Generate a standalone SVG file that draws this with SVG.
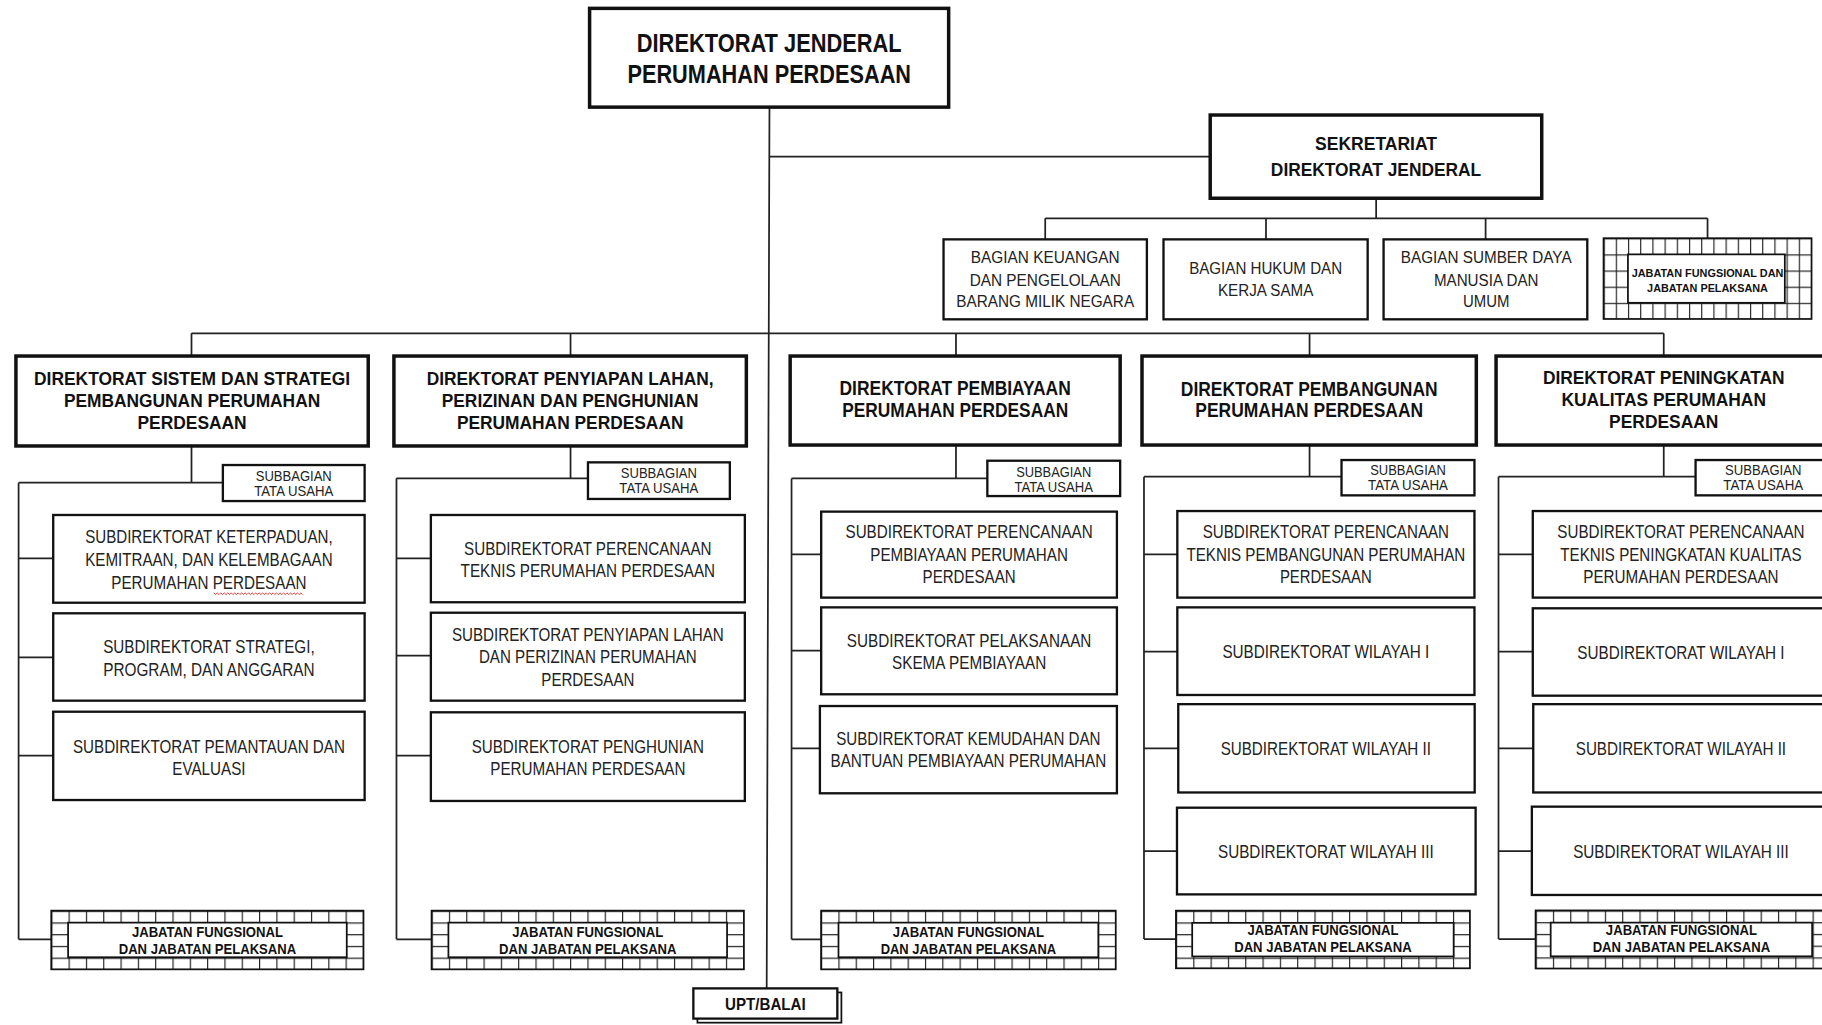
<svg xmlns="http://www.w3.org/2000/svg" width="1822" height="1025" viewBox="0 0 1822 1025">
<style>
.b3{fill:#fff;stroke:#111;stroke-width:3}
.b2{fill:#fff;stroke:#111;stroke-width:2}
.bi{fill:#fff;stroke:#111;stroke-width:1.5}
.ln{fill:none;stroke:#222;stroke-width:1.5}
text{font-family:"Liberation Sans",Arial,sans-serif;text-anchor:middle;fill:#111}
.tb{font-weight:bold}
.t22{font-size:22px}
.t17{font-size:17px}
.t16{font-size:16px}
.s{font-size:15.5px;fill:#222}
.g{font-size:14px;fill:#222}
.sb{font-size:12.5px;fill:#222}
.jb{font-size:13px;font-weight:bold}
.jt{font-size:9px;font-weight:bold}
</style>
<defs>
<pattern id="gridB" width="14.9" height="10.1" patternUnits="userSpaceOnUse"><rect width="14.9" height="10.1" fill="#fff"/><path d="M0 0H14.9M0 0V10.1" stroke="#222" stroke-width="2"/></pattern>
<pattern id="gridT" width="10.5" height="13.9" patternUnits="userSpaceOnUse"><rect width="10.5" height="13.9" fill="#fff"/><path d="M0 0H10.5M0 0V13.9" stroke="#222" stroke-width="2"/></pattern>
</defs>
<rect width="1822" height="1025" fill="#fff"/>
<g transform="scale(1.16199)">
<g id="connectors" class="ln">
<path d="M662.2 92.3L659.8 850.6M662.2 134.8H1041.5M1184.3 170.6V187.9M899.5 187.9H1469.5M899.5 187.9V206M1089.5 187.9V206M1278.5 187.9V206M1469.5 187.9V205"/>
<path d="M164.8 286.8H1431.8M164.8 286.8V306.4M491 286.8V306.4M822.7 286.8V306.4M1127 286.8V306.4M1431.8 286.8V306.4"/>
<path d="M164.8 383.8V415.4M16 415.4H191.8M16 415.4V808.4M16 480.5H45.8M16 565.7H45.8M16 650.3H45.8M16 808.4H44.1"/>
<path d="M491 383.8V411.6M341.2 411.6H506M341.2 411.6V808.4M341.2 480.5H370.8M341.2 564.3H370.8M341.2 650.3H370.8M341.2 808.4H371.4"/>
<path d="M822.7 383V411.7M681.2 411.7H849.7M681.2 411.7V808.4M681.2 477H706.7M681.2 560H706.7M681.2 644H705.6M681.2 808.4H706.6"/>
<path d="M1127 383V410.2M984.5 410.2H1154.5M984.5 410.2V808.1M984.5 477H1013.2M984.5 560.8H1013.2M984.5 644H1014M984.5 732.4H1012.9M984.5 808.1H1012"/>
<path d="M1431.8 383V410.2M1289.6 410.2H1459.2M1289.6 410.2V808.1M1289.6 477H1319.1M1289.6 560.8H1319.1M1289.6 644H1319.5M1289.6 732.4H1318.3M1289.6 808.1H1321.5"/>
</g>
<g id="dirjen"><rect class="b3" x="507.4" y="7.2" width="309" height="85"/>
<text class="tb t22" x="662" y="44.7" textLength="228" lengthAdjust="spacingAndGlyphs">DIREKTORAT JENDERAL</text>
<text class="tb t22" x="662" y="71" textLength="244" lengthAdjust="spacingAndGlyphs">PERUMAHAN PERDESAAN</text></g>
<g id="sekretariat"><rect class="b3" x="1041.5" y="99" width="285.3" height="71.6"/>
<text class="tb t16" x="1184.2" y="129" textLength="105" lengthAdjust="spacingAndGlyphs">SEKRETARIAT</text>
<text class="tb t16" x="1184.2" y="151.5" textLength="181" lengthAdjust="spacingAndGlyphs">DIREKTORAT JENDERAL</text></g>
<g id="bagian-keuangan"><rect class="b2" x="812" y="206" width="175" height="68.8"/>
<text class="g" x="899.5" y="226.6" textLength="128" lengthAdjust="spacingAndGlyphs">BAGIAN KEUANGAN</text>
<text class="g" x="899.5" y="246" textLength="130" lengthAdjust="spacingAndGlyphs">DAN PENGELOLAAN</text>
<text class="g" x="899.5" y="264.5" textLength="153" lengthAdjust="spacingAndGlyphs">BARANG MILIK NEGARA</text></g>
<g id="bagian-hukum"><rect class="b2" x="1001.3" y="206" width="175.7" height="68.8"/>
<text class="g" x="1089.2" y="236" textLength="131.6" lengthAdjust="spacingAndGlyphs">BAGIAN HUKUM DAN</text>
<text class="g" x="1089.2" y="254.7" textLength="82" lengthAdjust="spacingAndGlyphs">KERJA SAMA</text></g>
<g id="bagian-sdm"><rect class="b2" x="1190.7" y="206" width="175.3" height="68.8"/>
<text class="g" x="1279" y="226.6" textLength="147" lengthAdjust="spacingAndGlyphs">BAGIAN SUMBER DAYA</text>
<text class="g" x="1279" y="246" textLength="90" lengthAdjust="spacingAndGlyphs">MANUSIA DAN</text>
<text class="g" x="1279" y="264.5" textLength="40" lengthAdjust="spacingAndGlyphs">UMUM</text></g>
<g id="jabatan-sekretariat" transform="translate(1380 205)"><rect x="0" y="0" width="179" height="69.5" fill="url(#gridT)" stroke="#111" stroke-width="1.5"/>
<rect class="bi" x="21" y="13.9" width="135" height="41.7"/>
<text class="jt" x="89.5" y="33.7" textLength="130.5" lengthAdjust="spacingAndGlyphs">JABATAN FUNGSIONAL DAN</text>
<text class="jt" x="89.5" y="46" textLength="104" lengthAdjust="spacingAndGlyphs">JABATAN PELAKSANA</text></g>

<g id="dir-sistem"><rect class="b3" x="13.7" y="306.4" width="303.2" height="77.4"/>
<text class="tb t16" x="165.3" y="331.3" textLength="272" lengthAdjust="spacingAndGlyphs">DIREKTORAT SISTEM DAN STRATEGI</text>
<text class="tb t16" x="165.3" y="350" textLength="220.5" lengthAdjust="spacingAndGlyphs">PEMBANGUNAN PERUMAHAN</text>
<text class="tb t16" x="165.3" y="369.5" textLength="94" lengthAdjust="spacingAndGlyphs">PERDESAAN</text></g>
<g id="dir-penyiapan"><rect class="b3" x="339" y="306.4" width="303.3" height="77.4"/>
<text class="tb t16" x="490.7" y="331.3" textLength="247" lengthAdjust="spacingAndGlyphs">DIREKTORAT PENYIAPAN LAHAN,</text>
<text class="tb t16" x="490.7" y="350" textLength="221" lengthAdjust="spacingAndGlyphs">PERIZINAN DAN PENGHUNIAN</text>
<text class="tb t16" x="490.7" y="369.5" textLength="195" lengthAdjust="spacingAndGlyphs">PERUMAHAN PERDESAAN</text></g>
<g id="dir-pembiayaan"><rect class="b3" x="680" y="306.4" width="284" height="76.6"/>
<text class="tb t17" x="822" y="340" textLength="199" lengthAdjust="spacingAndGlyphs">DIREKTORAT PEMBIAYAAN</text>
<text class="tb t17" x="822" y="359" textLength="194.5" lengthAdjust="spacingAndGlyphs">PERUMAHAN PERDESAAN</text></g>
<g id="dir-pembangunan"><rect class="b3" x="982.8" y="306.4" width="287.7" height="76.6"/>
<text class="tb t17" x="1126.7" y="340.5" textLength="221" lengthAdjust="spacingAndGlyphs">DIREKTORAT PEMBANGUNAN</text>
<text class="tb t17" x="1126.7" y="359" textLength="196" lengthAdjust="spacingAndGlyphs">PERUMAHAN PERDESAAN</text></g>
<g id="dir-peningkatan"><rect class="b3" x="1287.5" y="306.4" width="300" height="76.6"/>
<text class="tb t16" x="1431.8" y="330.5" textLength="208" lengthAdjust="spacingAndGlyphs">DIREKTORAT PENINGKATAN</text>
<text class="tb t16" x="1431.8" y="349.4" textLength="176" lengthAdjust="spacingAndGlyphs">KUALITAS PERUMAHAN</text>
<text class="tb t16" x="1431.8" y="368.6" textLength="94" lengthAdjust="spacingAndGlyphs">PERDESAAN</text></g>

<g id="subbag-1"><rect class="b2" x="191.8" y="400.2" width="122" height="31"/>
<text class="sb" x="252.8" y="413.7" textLength="65.5" lengthAdjust="spacingAndGlyphs">SUBBAGIAN</text>
<text class="sb" x="252.8" y="426.6" textLength="68" lengthAdjust="spacingAndGlyphs">TATA USAHA</text></g>
<g id="subbag-2"><rect class="b2" x="506" y="397.9" width="122.1" height="31.5"/>
<text class="sb" x="567" y="411.7" textLength="65.5" lengthAdjust="spacingAndGlyphs">SUBBAGIAN</text>
<text class="sb" x="567" y="424.6" textLength="68" lengthAdjust="spacingAndGlyphs">TATA USAHA</text></g>
<g id="subbag-3"><rect class="b2" x="849.7" y="396.5" width="114.3" height="30.4"/>
<text class="sb" x="906.8" y="410.2" textLength="64.6" lengthAdjust="spacingAndGlyphs">SUBBAGIAN</text>
<text class="sb" x="906.8" y="423" textLength="67.5" lengthAdjust="spacingAndGlyphs">TATA USAHA</text></g>
<g id="subbag-4"><rect class="b2" x="1154.5" y="395.9" width="114.4" height="30.4"/>
<text class="sb" x="1211.7" y="408.8" textLength="65" lengthAdjust="spacingAndGlyphs">SUBBAGIAN</text>
<text class="sb" x="1211.7" y="421.7" textLength="68.7" lengthAdjust="spacingAndGlyphs">TATA USAHA</text></g>
<g id="subbag-5"><rect class="b2" x="1459.2" y="395.9" width="116" height="30.4"/>
<text class="sb" x="1517.4" y="408.8" textLength="65.7" lengthAdjust="spacingAndGlyphs">SUBBAGIAN</text>
<text class="sb" x="1517.4" y="421.7" textLength="68.7" lengthAdjust="spacingAndGlyphs">TATA USAHA</text></g>

<g id="sub-keterpaduan"><rect class="b2" x="45.8" y="443.2" width="268" height="75.5"/>
<text class="s" x="179.8" y="467.6" textLength="213" lengthAdjust="spacingAndGlyphs">SUBDIREKTORAT KETERPADUAN,</text>
<text class="s" x="179.8" y="487" textLength="213" lengthAdjust="spacingAndGlyphs">KEMITRAAN, DAN KELEMBAGAAN</text>
<text class="s" x="179.8" y="507.2" textLength="168" lengthAdjust="spacingAndGlyphs">PERUMAHAN PERDESAAN</text>
<path d="M184 510.2l1.5 1.5l1.5-1.5l1.5 1.5l1.5-1.5l1.5 1.5l1.5-1.5l1.5 1.5l1.5-1.5l1.5 1.5l1.5-1.5l1.5 1.5l1.5-1.5l1.5 1.5l1.5-1.5l1.5 1.5l1.5-1.5l1.5 1.5l1.5-1.5l1.5 1.5l1.5-1.5l1.5 1.5l1.5-1.5l1.5 1.5l1.5-1.5l1.5 1.5l1.5-1.5l1.5 1.5l1.5-1.5l1.5 1.5l1.5-1.5l1.5 1.5l1.5-1.5l1.5 1.5l1.5-1.5l1.5 1.5l1.5-1.5l1.5 1.5l1.5-1.5l1.5 1.5l1.5-1.5l1.5 1.5l1.5-1.5l1.5 1.5l1.5-1.5l1.5 1.5l1.5-1.5l1.5 1.5l1.5-1.5l1.5 1.5l1.5-1.5l1.5 1.5" fill="none" stroke="#e03030" stroke-width="0.8"/></g>
<g id="sub-strategi"><rect class="b2" x="45.8" y="527.8" width="268" height="75.2"/>
<text class="s" x="179.8" y="562" textLength="182" lengthAdjust="spacingAndGlyphs">SUBDIREKTORAT STRATEGI,</text>
<text class="s" x="179.8" y="581.5" textLength="182" lengthAdjust="spacingAndGlyphs">PROGRAM, DAN ANGGARAN</text></g>
<g id="sub-pemantauan"><rect class="b2" x="45.8" y="612.5" width="268" height="76"/>
<text class="s" x="179.8" y="647.8" textLength="234" lengthAdjust="spacingAndGlyphs">SUBDIREKTORAT PEMANTAUAN DAN</text>
<text class="s" x="179.8" y="667" textLength="63" lengthAdjust="spacingAndGlyphs">EVALUASI</text></g>

<g id="sub-perencanaan-teknis"><rect class="b2" x="370.8" y="443.2" width="270.2" height="75.1"/>
<text class="s" x="505.9" y="477.6" textLength="213" lengthAdjust="spacingAndGlyphs">SUBDIREKTORAT PERENCANAAN</text>
<text class="s" x="505.9" y="496.8" textLength="219" lengthAdjust="spacingAndGlyphs">TEKNIS PERUMAHAN PERDESAAN</text></g>
<g id="sub-penyiapan"><rect class="b2" x="370.8" y="527.3" width="270.2" height="75.7"/>
<text class="s" x="505.9" y="551.6" textLength="234" lengthAdjust="spacingAndGlyphs">SUBDIREKTORAT PENYIAPAN LAHAN</text>
<text class="s" x="505.9" y="571" textLength="187.5" lengthAdjust="spacingAndGlyphs">DAN PERIZINAN PERUMAHAN</text>
<text class="s" x="505.9" y="590.4" textLength="80" lengthAdjust="spacingAndGlyphs">PERDESAAN</text></g>
<g id="sub-penghunian"><rect class="b2" x="370.8" y="613" width="270.2" height="76.3"/>
<text class="s" x="505.9" y="647.8" textLength="200" lengthAdjust="spacingAndGlyphs">SUBDIREKTORAT PENGHUNIAN</text>
<text class="s" x="505.9" y="667" textLength="168" lengthAdjust="spacingAndGlyphs">PERUMAHAN PERDESAAN</text></g>

<g id="sub-perencanaan-pembiayaan"><rect class="b2" x="706.7" y="440.3" width="254.5" height="74"/>
<text class="s" x="834" y="463.3" textLength="212.7" lengthAdjust="spacingAndGlyphs">SUBDIREKTORAT PERENCANAAN</text>
<text class="s" x="834" y="482.5" textLength="170" lengthAdjust="spacingAndGlyphs">PEMBIAYAAN PERUMAHAN</text>
<text class="s" x="834" y="502" textLength="80" lengthAdjust="spacingAndGlyphs">PERDESAAN</text></g>
<g id="sub-pelaksanaan"><rect class="b2" x="706.7" y="522.7" width="254.5" height="74.8"/>
<text class="s" x="834" y="556.5" textLength="210.5" lengthAdjust="spacingAndGlyphs">SUBDIREKTORAT PELAKSANAAN</text>
<text class="s" x="834" y="575.5" textLength="132.7" lengthAdjust="spacingAndGlyphs">SKEMA PEMBIAYAAN</text></g>
<g id="sub-kemudahan"><rect class="b2" x="705.6" y="607.6" width="255.6" height="75.1"/>
<text class="s" x="833.4" y="641" textLength="227.5" lengthAdjust="spacingAndGlyphs">SUBDIREKTORAT KEMUDAHAN DAN</text>
<text class="s" x="833.4" y="659.8" textLength="237.4" lengthAdjust="spacingAndGlyphs">BANTUAN PEMBIAYAAN PERUMAHAN</text></g>

<g id="sub-perencanaan-pembangunan"><rect class="b2" x="1013.2" y="439.8" width="255.7" height="74.5"/>
<text class="s" x="1141" y="463.3" textLength="212" lengthAdjust="spacingAndGlyphs">SUBDIREKTORAT PERENCANAAN</text>
<text class="s" x="1141" y="482.5" textLength="240" lengthAdjust="spacingAndGlyphs">TEKNIS PEMBANGUNAN PERUMAHAN</text>
<text class="s" x="1141" y="502" textLength="79" lengthAdjust="spacingAndGlyphs">PERDESAAN</text></g>
<g id="sub-wilayah-1a"><rect class="b2" x="1013.2" y="522.7" width="255.7" height="75.4"/>
<text class="s" x="1141" y="566.5" textLength="178" lengthAdjust="spacingAndGlyphs">SUBDIREKTORAT WILAYAH I</text></g>
<g id="sub-wilayah-2a"><rect class="b2" x="1014" y="606" width="255.1" height="76"/>
<text class="s" x="1141" y="650" textLength="181" lengthAdjust="spacingAndGlyphs">SUBDIREKTORAT WILAYAH II</text></g>
<g id="sub-wilayah-3a"><rect class="b2" x="1012.9" y="695.1" width="257" height="74.6"/>
<text class="s" x="1141" y="738" textLength="185.6" lengthAdjust="spacingAndGlyphs">SUBDIREKTORAT WILAYAH III</text></g>

<g id="sub-perencanaan-kualitas"><rect class="b2" x="1319.1" y="439.8" width="255" height="74.5"/>
<text class="s" x="1446.6" y="463.3" textLength="212.7" lengthAdjust="spacingAndGlyphs">SUBDIREKTORAT PERENCANAAN</text>
<text class="s" x="1446.6" y="482.5" textLength="207.6" lengthAdjust="spacingAndGlyphs">TEKNIS PENINGKATAN KUALITAS</text>
<text class="s" x="1446.6" y="502" textLength="168" lengthAdjust="spacingAndGlyphs">PERUMAHAN PERDESAAN</text></g>
<g id="sub-wilayah-1b"><rect class="b2" x="1319.1" y="523.5" width="255" height="75.2"/>
<text class="s" x="1446.6" y="567" textLength="178.4" lengthAdjust="spacingAndGlyphs">SUBDIREKTORAT WILAYAH I</text></g>
<g id="sub-wilayah-2b"><rect class="b2" x="1319.5" y="606" width="255" height="76"/>
<text class="s" x="1446.6" y="650" textLength="181" lengthAdjust="spacingAndGlyphs">SUBDIREKTORAT WILAYAH II</text></g>
<g id="sub-wilayah-3b"><rect class="b2" x="1318.3" y="694.2" width="256" height="76"/>
<text class="s" x="1446.6" y="738" textLength="185.5" lengthAdjust="spacingAndGlyphs">SUBDIREKTORAT WILAYAH III</text></g>

<g id="jabatan-1" transform="translate(44.1 783.7)"><rect width="268.7" height="50.5" fill="url(#gridB)" stroke="#111" stroke-width="1.5"/>
<rect class="bi" x="14.5" y="10.3" width="239.8" height="29.8"/>
<text class="jb" x="134.4" y="22.9" textLength="130" lengthAdjust="spacingAndGlyphs">JABATAN FUNGSIONAL</text>
<text class="jb" x="134.4" y="37.6" textLength="152.7" lengthAdjust="spacingAndGlyphs">DAN JABATAN PELAKSANA</text></g>
<g id="jabatan-2" transform="translate(371.4 783.7)"><rect width="268.8" height="50.5" fill="url(#gridB)" stroke="#111" stroke-width="1.5"/>
<rect class="bi" x="14.5" y="10.3" width="239.8" height="29.8"/>
<text class="jb" x="134.4" y="22.9" textLength="130" lengthAdjust="spacingAndGlyphs">JABATAN FUNGSIONAL</text>
<text class="jb" x="134.4" y="37.6" textLength="152.7" lengthAdjust="spacingAndGlyphs">DAN JABATAN PELAKSANA</text></g>
<g id="jabatan-3" transform="translate(706.6 783.7)"><rect width="253.6" height="50.5" fill="url(#gridB)" stroke="#111" stroke-width="1.5"/>
<rect class="bi" x="15" y="10.3" width="223.6" height="29.8"/>
<text class="jb" x="126.8" y="22.9" textLength="130" lengthAdjust="spacingAndGlyphs">JABATAN FUNGSIONAL</text>
<text class="jb" x="126.8" y="37.6" textLength="151" lengthAdjust="spacingAndGlyphs">DAN JABATAN PELAKSANA</text></g>
<g id="jabatan-4" transform="translate(1012 783.7)"><rect width="253" height="49.6" fill="url(#gridB)" stroke="#111" stroke-width="1.5"/>
<rect class="bi" x="14" y="10.5" width="225" height="28.9"/>
<text class="jb" x="126.5" y="21" textLength="130" lengthAdjust="spacingAndGlyphs">JABATAN FUNGSIONAL</text>
<text class="jb" x="126.5" y="35.9" textLength="152.7" lengthAdjust="spacingAndGlyphs">DAN JABATAN PELAKSANA</text></g>
<g id="jabatan-5" transform="translate(1321.5 783.5)"><rect width="252" height="50" fill="url(#gridB)" stroke="#111" stroke-width="1.5"/>
<rect class="bi" x="13" y="10.5" width="225" height="29"/>
<text class="jb" x="125.5" y="21.2" textLength="130" lengthAdjust="spacingAndGlyphs">JABATAN FUNGSIONAL</text>
<text class="jb" x="125.5" y="36.1" textLength="152.7" lengthAdjust="spacingAndGlyphs">DAN JABATAN PELAKSANA</text></g>

<g id="upt-balai"><rect x="600.2" y="854.1" width="123.9" height="26" fill="none" stroke="#111" stroke-width="1.5"/>
<rect class="b2" x="596.7" y="850.6" width="123.9" height="26"/>
<text class="tb" style="font-size:15px" x="658.7" y="869.5" textLength="69.4" lengthAdjust="spacingAndGlyphs">UPT/BALAI</text></g>
</g>
</svg>
